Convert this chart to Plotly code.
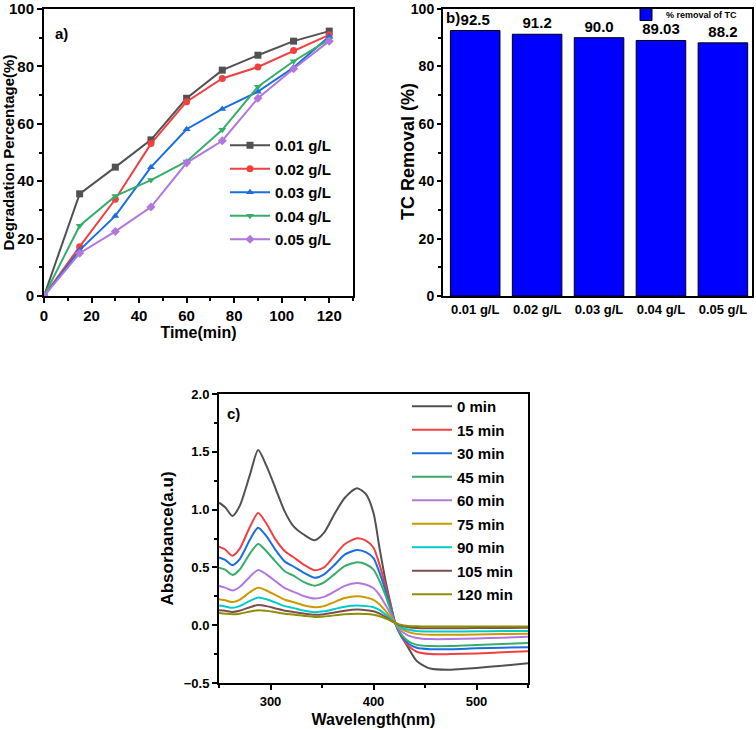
import plotly.graph_objects as go

# ---------------- Panel a data ----------------
time_min = [0, 15, 30, 45, 60, 75, 90, 105, 120]
deg_001 = [0, 35.6, 44.9, 54.4, 68.9, 78.7, 83.9, 88.8, 92.3]
deg_002 = [0, 17.2, 33.7, 53.1, 67.7, 75.8, 79.8, 85.5, 91.0]
deg_003 = [0, 16.0, 27.9, 44.9, 58.1, 65.2, 71.2, 79.6, 90.4]
deg_004 = [0, 24.5, 34.8, 40.4, 46.9, 57.9, 72.9, 81.8, 89.4]
deg_005 = [0, 14.9, 22.5, 31.0, 46.4, 54.1, 68.9, 79.2, 88.8]
dose_labels = ["0.01 g/L", "0.02 g/L", "0.03 g/L", "0.04 g/L", "0.05 g/L"]

# ---------------- Panel b data ----------------
removal_pct = [92.5, 91.2, 90.0, 89.03, 88.2]
removal_text = ["92.5", "91.2", "90.0", "89.03", "88.2"]

# ---------------- Panel c data ----------------
wavelength = [250, 256, 263, 270, 280, 288, 296, 305, 314, 322, 333, 343, 352, 362, 372,
              384, 393, 400, 406, 412, 417, 421, 427, 434, 442, 455, 475, 500, 525, 550]
abs_0 = [1.06, 1.02, 0.945, 1.03, 1.30, 1.515, 1.38, 1.18, 0.98, 0.86, 0.78, 0.735, 0.80, 0.96, 1.10,
         1.185, 1.13, 0.97, 0.66, 0.37, 0.17, 0.02, -0.09, -0.20, -0.31, -0.375, -0.385, -0.37, -0.35, -0.33]
abs_15 = [0.68, 0.655, 0.60, 0.66, 0.85, 0.97, 0.88, 0.74, 0.64, 0.59, 0.52, 0.475, 0.50, 0.60, 0.70,
          0.752, 0.73, 0.67, 0.52, 0.33, 0.16, 0.02, -0.10, -0.18, -0.23, -0.25, -0.25, -0.245, -0.235, -0.225]
abs_30 = [0.587, 0.565, 0.52, 0.57, 0.74, 0.844, 0.77, 0.65, 0.55, 0.51, 0.45, 0.41, 0.44, 0.52, 0.61,
          0.651, 0.63, 0.58, 0.45, 0.29, 0.14, 0.02, -0.09, -0.16, -0.195, -0.207, -0.207, -0.20, -0.195, -0.19]
abs_45 = [0.498, 0.48, 0.435, 0.48, 0.62, 0.703, 0.64, 0.55, 0.465, 0.43, 0.37, 0.342, 0.37, 0.44, 0.51,
          0.544, 0.525, 0.48, 0.38, 0.25, 0.12, 0.02, -0.08, -0.14, -0.17, -0.18, -0.18, -0.172, -0.163, -0.155]
abs_60 = [0.34, 0.325, 0.30, 0.33, 0.42, 0.478, 0.44, 0.38, 0.32, 0.29, 0.25, 0.23, 0.245, 0.29, 0.34,
          0.365, 0.35, 0.32, 0.26, 0.17, 0.09, 0.02, -0.05, -0.09, -0.11, -0.12, -0.12, -0.115, -0.108, -0.10]
abs_75 = [0.225, 0.215, 0.20, 0.22, 0.285, 0.325, 0.30, 0.26, 0.22, 0.20, 0.17, 0.155, 0.165, 0.20, 0.235,
          0.25, 0.24, 0.22, 0.18, 0.12, 0.065, 0.02, -0.03, -0.06, -0.075, -0.082, -0.083, -0.08, -0.077, -0.075]
abs_90 = [0.17, 0.162, 0.15, 0.165, 0.21, 0.24, 0.225, 0.195, 0.165, 0.15, 0.125, 0.113, 0.12, 0.14, 0.16,
          0.17, 0.165, 0.155, 0.13, 0.09, 0.05, 0.02, -0.02, -0.04, -0.05, -0.055, -0.055, -0.053, -0.051, -0.05]
abs_105 = [0.13, 0.125, 0.115, 0.125, 0.155, 0.175, 0.165, 0.145, 0.125, 0.115, 0.10, 0.09, 0.095, 0.11, 0.125,
           0.135, 0.13, 0.12, 0.10, 0.07, 0.04, 0.02, -0.005, -0.018, -0.024, -0.026, -0.026, -0.025, -0.024, -0.023]
abs_120 = [0.105, 0.10, 0.095, 0.10, 0.118, 0.13, 0.125, 0.112, 0.10, 0.092, 0.08, 0.072, 0.076, 0.085, 0.095,
           0.10, 0.097, 0.09, 0.078, 0.058, 0.038, 0.02, 0.002, -0.006, -0.01, -0.012, -0.012, -0.012, -0.012, -0.011]
time_labels = ["0 min", "15 min", "30 min", "45 min", "60 min", "75 min", "90 min", "105 min", "120 min"]

palette = ["#515151", "#F14040", "#1A6FDF", "#37AD6B", "#B177DE", "#CC9900", "#00CBCC", "#7D4E4E", "#8E8E00"]
FONT = "Liberation Sans"
W, H = 756, 729

fig = go.Figure()

# Panel a
markers = ["square", "circle", "triangle-up", "triangle-down", "diamond"]
for i, ys in enumerate([deg_001, deg_002, deg_003, deg_004, deg_005]):
    fig.add_trace(go.Scatter(
        x=time_min, y=ys, mode="lines+markers", name=dose_labels[i],
        line=dict(color=palette[i], width=2),
        marker=dict(symbol=markers[i], size=7, color=palette[i]),
        legendgroup="a%d" % i,
        xaxis="x", yaxis="y", legend="legend"))

# Panel b
fig.add_trace(go.Bar(
    x=dose_labels, y=removal_pct, name="% removal of TC",
    marker=dict(color="#0000FF", line=dict(color="black", width=1)),
    width=0.8, text=removal_text, textposition="outside", cliponaxis=False,
    textfont=dict(family=FONT, size=15, color="black", weight="bold"),
    xaxis="x2", yaxis="y2", legend="legend2"))

# Panel c
for i, ys in enumerate([abs_0, abs_15, abs_30, abs_45, abs_60, abs_75, abs_90, abs_105, abs_120]):
    fig.add_trace(go.Scatter(
        x=wavelength, y=ys, mode="lines", name=time_labels[i],
        line=dict(color=palette[i], width=2, shape="spline", smoothing=0.7),
        legendgroup="c%d" % i,
        xaxis="x3", yaxis="y3", legend="legend3"))


def tf(s):
    return dict(family=FONT, size=s, color="black", weight="bold")


def minor(dt):
    return dict(ticks="outside", ticklen=3, tickwidth=2, tickcolor="black", dtick=dt)


def ax(**kw):
    d = dict(showline=True, linecolor="black", linewidth=2, mirror=True,
             ticks="outside", ticklen=5, tickwidth=2, tickcolor="black",
             showgrid=False, zeroline=False, tickfont=tf(15), ticklabeloverflow="allow")
    d.update(kw)
    return d


fig.update_layout(
    width=W, height=H, paper_bgcolor="white", plot_bgcolor="white",
    margin=dict(l=0, r=0, t=0, b=0, autoexpand=False),
    font=dict(family=FONT, color="black"),
    showlegend=True,
    xaxis=ax(domain=[44 / W, 353 / W], anchor="y", range=[0, 130], dtick=20, minor=minor(10),
             title=dict(text="Time(min)", font=tf(16), standoff=4)),
    yaxis=ax(domain=[1 - 296 / H, 1 - 9 / H], anchor="x", range=[0, 100], dtick=20, minor=minor(10),
             title=dict(text="Degradation Percentage(%)", font=tf(15), standoff=4)),
    xaxis2=ax(domain=[443 / W, 752 / W], anchor="y2", range=[-0.52, 4.47], ticks="", tickfont=tf(13)),
    yaxis2=ax(domain=[1 - 296 / H, 1 - 9 / H], anchor="x2", range=[0, 100], dtick=20, minor=minor(10),
              ticklen=4, tickfont=tf(14)),
    xaxis3=ax(domain=[219 / W, 528 / W], anchor="y3", range=[250, 550], dtick=100, minor=minor(50),
              tickfont=tf(13), title=dict(text="Wavelength(nm)", font=tf(16), standoff=6)),
    yaxis3=ax(domain=[1 - 683 / H, 1 - 394 / H], anchor="x3", range=[-0.5, 2.0], dtick=0.5,
              tickformat=".1f", minor=minor(0.25), tickfont=tf(13),
              title=dict(text="Absorbance(a.u)", font=tf(17), standoff=6)),
    legend=dict(x=225 / W, y=1 - 129 / H, xanchor="left", yanchor="top",
                bgcolor="rgba(0,0,0,0)", font=tf(15), traceorder="grouped",
                tracegroupgap=1, itemwidth=40),
    legend2=dict(x=626 / W, y=1.0, xanchor="left", yanchor="top",
                 bgcolor="rgba(0,0,0,0)", font=tf(9)),
    legend3=dict(x=407 / W, y=1 - 390 / H, xanchor="left", yanchor="top",
                 bgcolor="rgba(0,0,0,0)", font=tf(15), traceorder="grouped",
                 tracegroupgap=1, itemwidth=40),
    annotations=[
        dict(text="TC Removal (%)", x=408 / W, y=1 - 152 / H, xref="paper", yref="paper",
             xanchor="center", yanchor="middle", textangle=-90, showarrow=False, font=tf(18)),
        dict(text="a)", x=53 / W, y=1 - 33 / H, xref="paper", yref="paper", xanchor="left", yanchor="middle",
             showarrow=False, font=tf(15)),
        dict(text="b)", x=444 / W, y=1 - 17 / H, xref="paper", yref="paper", xanchor="left", yanchor="middle",
             showarrow=False, font=tf(15)),
        dict(text="c)", x=225 / W, y=1 - 413 / H, xref="paper", yref="paper", xanchor="left", yanchor="middle",
             showarrow=False, font=tf(15)),
    ],
)

fig.write_html("out.html")
